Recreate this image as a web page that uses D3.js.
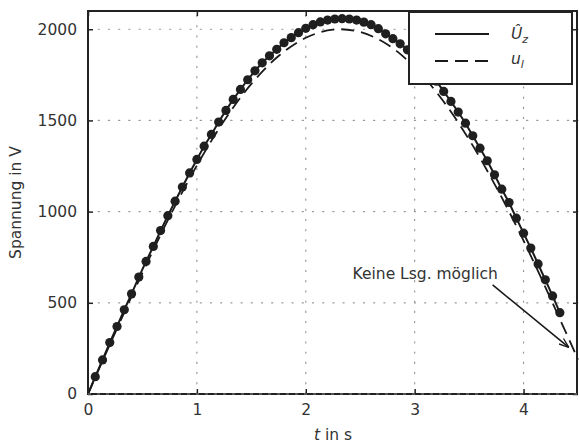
<!DOCTYPE html>
<html>
<head>
<meta charset="utf-8">
<script src="https://cdn.jsdelivr.net/npm/d3@7"></script>
<style>
  body { margin: 0; background: #fff; }
  text { font-family: "DejaVu Sans", sans-serif; fill: #333; }
</style>
</head>
<body>
<div id="chart"></div>
<script>
// Abtastzeitpunkte der Messpunkte (t = k/15 s)
const tSamples = d3.range(1, 66).map(k => k / 15);
// Û_z an den Abtastzeitpunkten
const uzValues = [95, 187, 282, 370, 462, 549, 641, 727, 809, 896,
  978, 1057, 1135, 1212, 1286, 1359, 1423, 1491, 1555, 1615,
  1670, 1723, 1772, 1816, 1854, 1890, 1926, 1954, 1981, 2005,
  2025, 2040, 2050, 2056, 2058, 2056, 2050, 2039, 2025, 2003,
  1975, 1948, 1920, 1887, 1850, 1810, 1765, 1715, 1659, 1604,
  1546, 1485, 1416, 1348, 1279, 1202, 1123, 1050, 964, 882,
  800, 713, 626, 538, 446];
// u_l (gestrichelt)
const tLine = [0, 0.25, 0.5, 0.75, 1, 1.25, 1.5, 1.75, 2, 2.25, 2.5,
  2.75, 3, 3.25, 3.5, 3.75, 4, 4.25, 4.5];
const ulValues = [0, 337, 664, 973, 1253, 1498, 1700, 1853, 1953, 1998,
  1985, 1916, 1792, 1616, 1395, 1133, 841, 521, 189];

const xTicks = [0, 1, 2, 3, 4];
const yTicks = [0, 500, 1000, 1500, 2000];

const W = 579, H = 444;
const m = { left: 88, right: 1, top: 11, bottom: 50 };
const fs = "15.5px";

const svg = d3.select("#chart").append("svg")
  .attr("width", W).attr("height", H);

const x = d3.scaleLinear().domain([0, 4.5]).range([m.left, W - m.right]);
const y = d3.scaleLinear().domain([0, 2100]).range([H - m.bottom, m.top]);

// Gitter
const grid = svg.append("g")
  .attr("stroke", "#999").attr("stroke-width", 1.2)
  .attr("stroke-dasharray", "1.2,9").attr("stroke-linecap", "round");
grid.selectAll(".gx").data(xTicks.slice(1)).join("line")
  .attr("x1", d => x(d)).attr("x2", d => x(d))
  .attr("y1", y(0)).attr("y2", y(2100));
grid.selectAll(".gy").data(yTicks.slice(1)).join("line")
  .attr("x1", x(0)).attr("x2", x(4.5))
  .attr("y1", d => y(d)).attr("y2", d => y(d));

// Achsen mit Ticks nach innen
const fmt = d3.format("d");
svg.append("g").attr("transform", `translate(0,${y(0)})`)
  .call(d3.axisBottom(x).tickValues(xTicks).tickSize(-5).tickPadding(10).tickFormat(fmt));
svg.append("g").attr("transform", `translate(${x(0)},0)`)
  .call(d3.axisLeft(y).tickValues(yTicks).tickSize(-5).tickPadding(11).tickFormat(fmt));
svg.append("g").attr("transform", `translate(0,${y(2100)})`)
  .call(d3.axisTop(x).tickValues(xTicks).tickSize(-5).tickFormat(""));
svg.append("g").attr("transform", `translate(${x(4.5)},0)`)
  .call(d3.axisRight(y).tickValues(yTicks).tickSize(-5).tickFormat(""));
svg.selectAll(".domain").remove();
svg.selectAll(".tick line").attr("stroke", "#222").attr("stroke-width", 1.5);
svg.selectAll(".tick text").style("font-size", fs)
  .style("font-family", "'DejaVu Sans', sans-serif").attr("fill", "#333");

// Kurven
const lineUl = d3.line().curve(d3.curveCatmullRom)
  .x((d, i) => x(tLine[i])).y(d => y(d));
svg.append("path").datum(ulValues)
  .attr("d", lineUl).attr("fill", "none")
  .attr("stroke", "#1a1a1a").attr("stroke-width", 1.8)
  .attr("stroke-dasharray", "13,7");

const uzPts = [[0, 0]].concat(tSamples.map((t, i) => [t, uzValues[i]]));
svg.append("path").datum(uzPts)
  .attr("d", d3.line().x(d => x(d[0])).y(d => y(d[1])))
  .attr("fill", "none").attr("stroke", "#1a1a1a").attr("stroke-width", 2);

svg.append("g").selectAll("circle")
  .data(tSamples.map((t, i) => [t, uzValues[i]]))
  .join("circle")
  .attr("cx", d => x(d[0])).attr("cy", d => y(d[1]))
  .attr("r", 4.6).attr("fill", "#1f1f1f");

// Rahmen
svg.append("rect")
  .attr("x", x(0)).attr("y", y(2100))
  .attr("width", x(4.5) - x(0) - 1).attr("height", y(0) - y(2100))
  .attr("fill", "none").attr("stroke", "#222").attr("stroke-width", 2);
svg.append("line")
  .attr("x1", x(0)).attr("x2", x(4.5)).attr("y1", y(0)).attr("y2", y(0))
  .attr("stroke", "#888").attr("stroke-width", 1).attr("stroke-dasharray", "3,6");

// Legende
const lg = svg.append("g");
lg.append("rect").attr("x", 409).attr("y", 12).attr("width", 163).attr("height", 72)
  .attr("fill", "#fff").attr("stroke", "#222").attr("stroke-width", 2);
lg.append("line").attr("x1", 435).attr("x2", 489).attr("y1", 34).attr("y2", 34)
  .attr("stroke", "#1a1a1a").attr("stroke-width", 2);
lg.append("line").attr("x1", 435).attr("x2", 489).attr("y1", 61).attr("y2", 61)
  .attr("stroke", "#1a1a1a").attr("stroke-width", 2).attr("stroke-dasharray", "13,7");
const l1 = lg.append("text").attr("x", 511).attr("y", 39)
  .style("font-size", fs).style("font-style", "italic");
l1.append("tspan").text("Û");
l1.append("tspan").attr("dy", 4).style("font-size", "11px").text("z");
const l2 = lg.append("text").attr("x", 511).attr("y", 64)
  .style("font-size", fs).style("font-style", "italic");
l2.append("tspan").text("u");
l2.append("tspan").attr("dy", 4).style("font-size", "11px").text("l");

// Achsentitel
svg.append("text").attr("x", (x(0) + x(4.5)) / 2).attr("y", 440)
  .attr("text-anchor", "middle").style("font-size", fs)
  .html('<tspan font-style="italic">t</tspan> in s');
svg.append("text")
  .attr("transform", `translate(21,${(y(0) + y(2100)) / 2}) rotate(-90)`)
  .attr("text-anchor", "middle").style("font-size", fs)
  .text("Spannung in V");

// Anmerkung
const note = { tx: 2.43, ty: 631, x0: 3.716, y0: 598, x1: 4.41, y1: 258 };
svg.append("defs").append("marker")
  .attr("id", "arr").attr("viewBox", "0 0 10 10")
  .attr("refX", 9).attr("refY", 5)
  .attr("markerWidth", 10).attr("markerHeight", 10)
  .attr("markerUnits", "userSpaceOnUse").attr("orient", "auto")
  .append("path").attr("d", "M0,1.5 L10,5 L0,8.5")
  .attr("fill", "none").attr("stroke", "#1a1a1a").attr("stroke-width", 1.3);
svg.append("line")
  .attr("x1", x(note.x0)).attr("y1", y(note.y0))
  .attr("x2", x(note.x1)).attr("y2", y(note.y1))
  .attr("stroke", "#1a1a1a").attr("stroke-width", 1.6)
  .attr("marker-end", "url(#arr)");
svg.append("text").attr("x", x(note.tx)).attr("y", y(note.ty))
  .style("font-size", fs).text("Keine Lsg. möglich");
</script>
</body>
</html>
